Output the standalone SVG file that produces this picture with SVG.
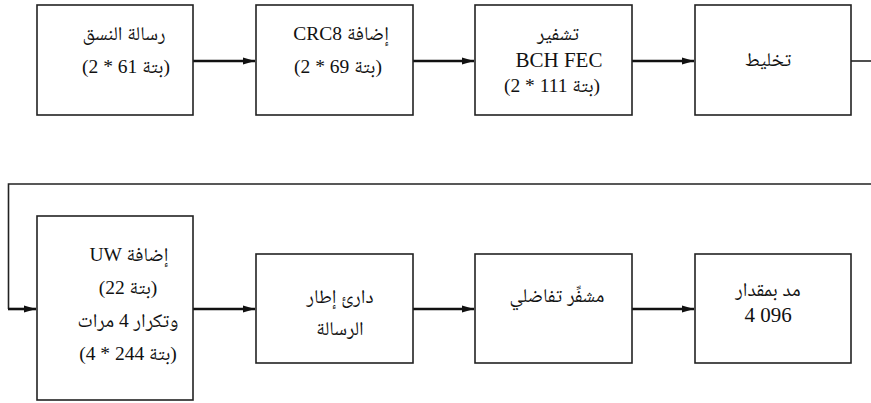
<svg xmlns="http://www.w3.org/2000/svg" width="871" height="403" viewBox="0 0 871 403">
<style>
.box{fill:#fff;stroke:#222;stroke-width:1.6}
.t{font-family:"Liberation Serif","Noto Naskh Arabic","Amiri","DejaVu Sans",serif;font-size:19.5px;fill:#111;text-anchor:middle}
.big{font-size:21px}
.ar{stroke:#111;stroke-width:2.6;fill:none}
.ln{stroke:#222;stroke-width:1.6;fill:none}
</style>
<defs>
<marker id="ah" viewBox="0 0 12 8" refX="12" refY="4" markerWidth="12" markerHeight="8" markerUnits="userSpaceOnUse" orient="auto">
<path d="M0,0.6 L12,4 L0,7.4 z" fill="#111"/>
</marker>
</defs>
<g id="connectors">
<line class="ar" x1="193" y1="61" x2="255" y2="61" marker-end="url(#ah)"/>
<line class="ar" x1="413" y1="61" x2="474" y2="61" marker-end="url(#ah)"/>
<line class="ar" x1="632" y1="61" x2="694" y2="61" marker-end="url(#ah)"/>
<line class="ln" x1="851" y1="61" x2="871" y2="61"/>
<polyline class="ln" points="871,184 8.5,184 8.5,309"/>
<line class="ar" x1="8" y1="309" x2="36" y2="309" marker-end="url(#ah)"/>
<line class="ar" x1="193" y1="309" x2="255" y2="309" marker-end="url(#ah)"/>
<line class="ar" x1="413" y1="309" x2="474" y2="309" marker-end="url(#ah)"/>
<line class="ar" x1="632" y1="309" x2="694" y2="309" marker-end="url(#ah)"/>
</g>
<g id="n1">
<rect class="box" x="37" y="5" width="156" height="110"/>
<text class="t" x="124" y="40">رسالة النسق</text>
<text class="t" x="126" y="73">(2 * 61 بتة)</text>
</g>
<g id="n2">
<rect class="box" x="256" y="5" width="157" height="110"/>
<text class="t" x="341" y="40">CRC8 إضافة</text>
<text class="t" x="338" y="73">(2 * 69 بتة)</text>
</g>
<g id="n3">
<rect class="box" x="475" y="5" width="157" height="110"/>
<text class="t" x="558" y="40">تشفير</text>
<text class="t big" x="559" y="67">BCH FEC</text>
<text class="t" x="552" y="92">(2 * 111 بتة)</text>
</g>
<g id="n4">
<rect class="box" x="695" y="5" width="156" height="110"/>
<text class="t" x="768" y="66">تخليط</text>
</g>
<g id="n5">
<rect class="box" x="37" y="216" width="156" height="184"/>
<text class="t" x="129" y="261">UW إضافة</text>
<text class="t" x="128" y="294">(22 بتة)</text>
<text class="t" x="128" y="327">وتكرار 4 مرات</text>
<text class="t" x="128" y="360">(4 * 244 بتة)</text>
</g>
<g id="n6">
<rect class="box" x="256" y="254" width="157" height="109"/>
<text class="t" x="340" y="303">دارئ إطار</text>
<text class="t" x="340" y="335">الرسالة</text>
</g>
<g id="n7">
<rect class="box" x="475" y="254" width="157" height="109"/>
<text class="t" x="557" y="302">مشفِّر تفاضلي</text>
</g>
<g id="n8">
<rect class="box" x="695" y="254" width="156" height="109"/>
<text class="t" x="768" y="296">مد بمقدار</text>
<text class="t big" x="768" y="322">4 096</text>
</g>
</svg>
